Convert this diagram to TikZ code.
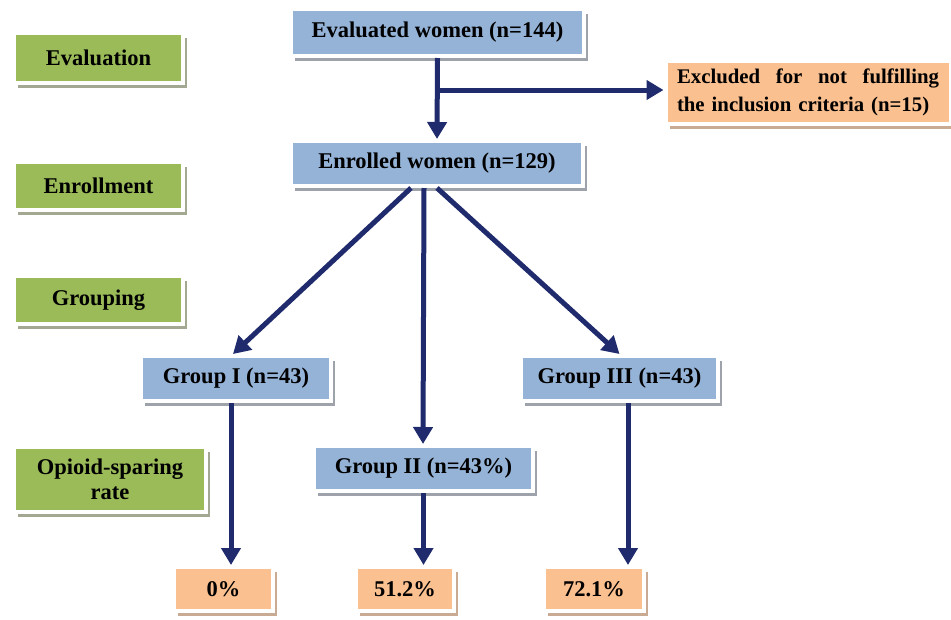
\documentclass[tikz,border=0pt]{standalone}
\usepackage{fontspec}
\setmainfont{Liberation Serif}
\usetikzlibrary{arrows.meta}
\definecolor{grn}{HTML}{9BBB59}
\definecolor{blu}{HTML}{95B3D7}
\definecolor{org}{HTML}{FAC090}
\definecolor{grnsh}{HTML}{A3A893}
\definecolor{blush}{HTML}{9EA3AB}
\definecolor{orgsh}{HTML}{C9AA92}
\definecolor{navy}{HTML}{1F2B6C}
\tikzset{
  basebox/.style={draw=white, line width=4pt, inner sep=0pt, font=\fontsize{22.5}{25}\selectfont\bfseries, align=center},
  gbox/.style={basebox, fill=grn, preaction={fill=grnsh, transform canvas={shift={(4pt,-5pt)}}}},
  bbox/.style={basebox, fill=blu, preaction={fill=blush, transform canvas={shift={(4pt,-5pt)}}}},
  obox/.style={basebox, fill=org, preaction={fill=orgsh, transform canvas={shift={(4pt,-5pt)}}}},
  arr/.style={draw=navy, line width=5pt, -{Triangle[length=17pt,width=19pt]}},
  ln/.style={draw=navy, line width=5pt}
}
\begin{document}
\begin{tikzpicture}[x=1pt,y=-1pt]
\useasboundingbox (0,0) rectangle (951,619);
% left labels
\node[gbox, minimum width=169pt, minimum height=50pt] (lev) at (98.5,57.5) {Evaluation};
\node[gbox, minimum width=169pt, minimum height=48pt] (len) at (98.5,185.5) {Enrollment};
\node[gbox, minimum width=169pt, minimum height=48pt] (lgr) at (98.5,300) {Grouping};
\node[gbox, minimum width=192pt, minimum height=65pt] (lop) at (110,479.5) {Opioid-sparing\\rate};
% main flow
\node[bbox, minimum width=293pt, minimum height=47pt] (ev) at (437.5,32.5) {Evaluated women (n=144)};
\node[bbox, minimum width=292pt, minimum height=45pt] (en) at (437,163.5) {Enrolled women (n=129)};
\node[obox, minimum width=285pt, minimum height=63pt, text width=262pt, align=left, font=\fontsize{20.8}{28}\selectfont\bfseries] (ex) at (808,92.5) {Excluded\hfill for\hfill not\hfill fulfilling\\the inclusion criteria (n=15)};
\node[bbox, minimum width=190pt, minimum height=45pt] (g1) at (236,378.5) {Group I (n=43)};
\node[bbox, minimum width=197pt, minimum height=45pt] (g3) at (619.5,378.5) {Group III\ (n=43)};
\node[bbox, minimum width=219pt, minimum height=45pt] (g2) at (423.5,468.5) {Group II (n=43\%)};
\node[obox, minimum width=99pt, minimum height=44pt] (r1) at (223.5,589) {0\%};
\node[obox, minimum width=98pt, minimum height=44pt] (r2) at (405,589) {51.2\%};
\node[obox, minimum width=100pt, minimum height=44pt] (r3) at (594,589) {72.1\%};
% connectors
\draw[arr] (ev.south) -- (en.north);
\coordinate (br) at (437,90);
\draw[arr] (br) -- (br -| ex.west);
\draw[arr] ([xshift=-26pt]en.south) -- ([xshift=-3pt]g1.north);
\draw[arr] ([xshift=-13pt]en.south) -- ([xshift=-0.5pt]g2.north);
\draw[arr] ([xshift=0pt]en.south) -- ([xshift=0pt]g3.north);
\draw[arr] ([xshift=-5pt]g1.south) -- ([xshift=-5pt]g1.south |- r1.north);
\draw[arr] (g2.south) -- (g2.south |- r2.north);
\draw[arr] ([xshift=8.5pt]g3.south) -- ([xshift=8.5pt]g3.south |- r3.north);
\end{tikzpicture}
\end{document}
